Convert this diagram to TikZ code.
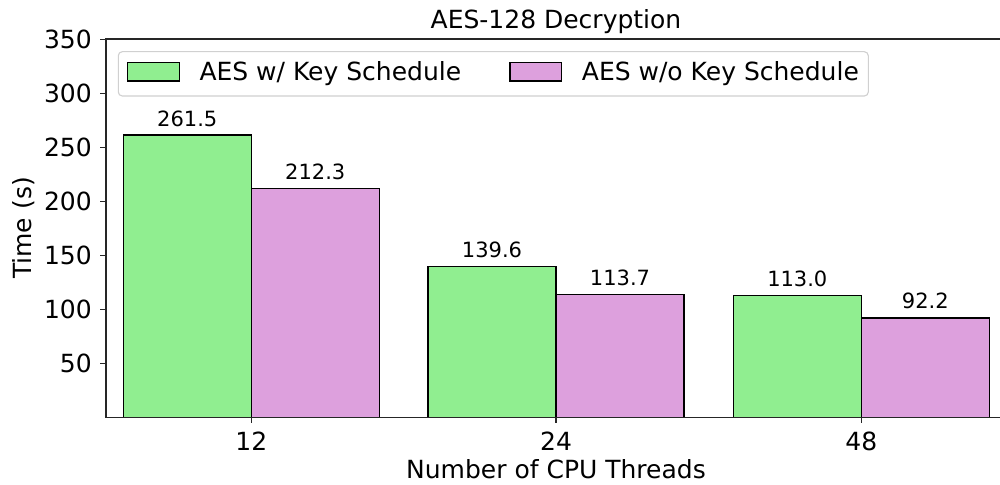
\documentclass[tikz,border=0pt]{standalone}
\usepackage{fontspec}
\setmainfont{DejaVu Sans}
\definecolor{lightgreenfill}{HTML}{90EE90}
\definecolor{plumfill}{HTML}{DDA0DD}
\definecolor{legendedge}{HTML}{D0D0D0}
\begin{document}
\begin{tikzpicture}[x=1pt,y=-1pt,
  spine/.style={line width=1.2pt,draw=black!85,line cap=rect},
  tickmark/.style={line width=1.1pt,draw=black!85},
  withks/.style={draw=black,line width=1.4pt,fill=lightgreenfill},
  withoutks/.style={draw=black,line width=1.4pt,fill=plumfill},
  ticklabel/.style={inner sep=0pt,font=\fontsize{25}{30}\selectfont},
  vallabel/.style={inner sep=0pt,anchor=base,font=\fontsize{21}{25}\selectfont},
  bigtext/.style={inner sep=0pt,font=\fontsize{25}{30}\selectfont}]
\useasboundingbox (0,0) rectangle (1000,484);

% bars: green = with key schedule, plum = without
\foreach \name/\xc/\va/\vb in {a/251.3/261.5/212.3, b/556/139.6/113.7, c/861.3/113.0/92.2} {
  \pgfmathsetmacro\ya{417.5-1.08*\va}
  \pgfmathsetmacro\yb{417.5-1.08*\vb}
  \draw[withks] (\xc-128,417.5) rectangle (\xc,\ya);
  \draw[withoutks] (\xc,417.5) rectangle (\xc+128,\yb);
  \node[vallabel] (val\name1) at (\xc-64,\ya-9) {\va};
  \node[vallabel] (val\name2) at (\xc+64,\yb-9) {\vb};
}

% axes frame
\coordinate (origin) at (106,417.5);
\coordinate (topleft) at (106,39);
\coordinate (topright) at (1000,39);
\coordinate (bottomright) at (1000,417.5);
\draw[spine] (topright) -- (topleft) -- (origin) -- (bottomright);

% y ticks
\foreach \v in {50,100,...,350} {
  \pgfmathsetmacro\yy{417.5-1.08*\v}
  \draw[tickmark] (100,\yy) -- (106,\yy);
  \node[ticklabel,anchor=east] (ytick\v) at (92,\yy) {\v};
}

% x ticks
\foreach \xc/\lab in {251.3/12, 556/24, 861.3/48} {
  \draw[tickmark] (\xc,417.5) -- (\xc,423);
  \node[ticklabel,anchor=north] (xtick\lab) at (\xc,431.7) {\lab};
}

% titles
\node[bigtext,anchor=base] (title) at (556,28.3) {AES-128 Decryption};
\node[bigtext,anchor=base] (xlabel) at (556,478.3) {Number of CPU Threads};
\node[bigtext,rotate=90,anchor=center] (ylabel) at (24,228) {Time (s)};

% legend
\draw[draw=legendedge,fill=white,line width=1.1pt,rounded corners=4pt]
  (118.3,51.7) rectangle (868.3,96);
\draw[withks] (127.7,62.7) rectangle (179.3,81);
\node[bigtext,anchor=base west] (legA) at (199.3,80.7) {AES w/ Key Schedule};
\draw[withoutks] (510,62.7) rectangle (561.7,81);
\node[bigtext,anchor=base west] (legB) at (581.7,80.7) {AES w/o Key Schedule};
\end{tikzpicture}
\end{document}
